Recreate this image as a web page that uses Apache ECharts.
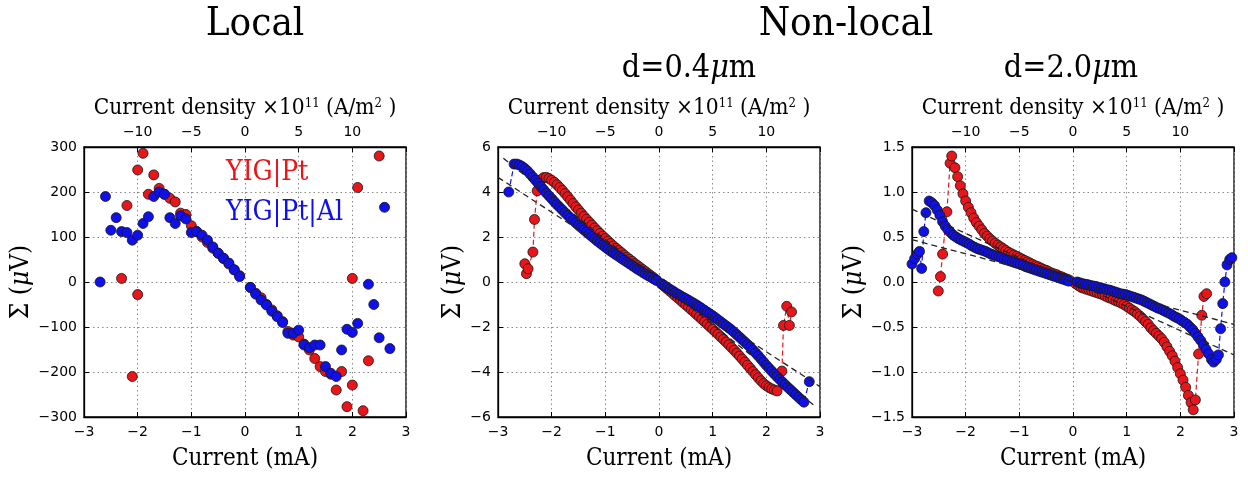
<!DOCTYPE html>
<html>
<head>
<meta charset="utf-8">
<script src="https://cdn.jsdelivr.net/npm/echarts@6/dist/echarts.min.js"></script>
<style>
html,body{margin:0;padding:0;background:#fff;}
#chart{width:1248px;height:477px;}
</style>
</head>
<body>
<div id="chart"></div>
<script>
// ---------- DATA ----------
const panelTitles = ['Local', 'Non-local', 'd=0.4', 'd=2.0'];
const seriesNames = ['YIG|Pt', 'YIG|Pt|Al'];
const currentTicks = [-3, -2, -1, 0, 1, 2, 3];
const densityTicks = [-10, -5, 0, 5, 10];

// Local: [current mA, Sigma uV]
const localPt = [[-2.3,8],[-2.2,170],[-2.1,-210],[-2.0,249],[-2.0,-28],[-1.9,286],[-1.8,195],[-1.7,238],[-1.6,208],[-1.5,195],[-1.4,186],[-1.3,178],[-1.2,153],[-1.1,150],[-1.0,125],[-0.9,112],[-0.8,100],[-0.7,88],[-0.6,75],[-0.5,64],[-0.4,52],[-0.3,40],[-0.2,27],[-0.1,14],[0.1,-12],[0.2,-25],[0.3,-35],[0.4,-50],[0.5,-62],[0.6,-75],[0.7,-88],[0.8,-110],[0.9,-118],[1.0,-122],[1.1,-138],[1.2,-151],[1.3,-170],[1.4,-188],[1.5,-199],[1.6,-205],[1.7,-240],[1.8,-199],[1.9,-277],[2.0,-229],[2.0,8],[2.1,210],[2.2,-286],[2.3,-175],[2.5,280]];
const localPtAl = [[-2.7,0],[-2.6,190],[-2.5,115],[-2.4,143],[-2.3,112],[-2.2,110],[-2.1,93],[-2.0,104],[-1.9,130],[-1.8,145],[-1.7,190],[-1.6,200],[-1.5,195],[-1.4,143],[-1.3,130],[-1.2,147],[-1.1,140],[-1.0,110],[-0.9,112],[-0.8,104],[-0.7,93],[-0.6,78],[-0.5,64],[-0.4,53],[-0.3,42],[-0.2,27],[-0.1,12],[0.1,-12],[0.2,-27],[0.3,-40],[0.4,-51],[0.5,-65],[0.6,-77],[0.7,-90],[0.8,-114],[0.9,-114],[1.0,-107],[1.1,-140],[1.2,-146],[1.3,-140],[1.4,-140],[1.5,-188],[1.6,-203],[1.7,-210],[1.8,-151],[1.9,-105],[2.0,-112],[2.1,-92],[2.3,-5],[2.4,-50],[2.5,-124],[2.6,166],[2.7,-148]];

// Non-local d=0.4um
const d04Pt = [[-2.50,0.81],[-2.47,0.37],[-2.44,0.59],[-2.35,1.33],[-2.32,2.78],[-2.27,4.05],
[-2.20,4.55],[-2.15,4.64],[-2.10,4.65],[-2.05,4.60],[-2.00,4.52],[-1.95,4.43],[-1.90,4.32],[-1.85,4.20],[-1.80,4.07],[-1.75,3.93],[-1.70,3.79],[-1.65,3.64],[-1.60,3.49],[-1.55,3.34],[-1.50,3.20],[-1.45,3.06],[-1.40,2.92],[-1.35,2.79],[-1.30,2.66],[-1.25,2.53],[-1.20,2.40],[-1.15,2.28],[-1.10,2.16],[-1.05,2.04],[-1.00,1.93],[-0.95,1.82],[-0.90,1.71],[-0.85,1.60],[-0.80,1.50],[-0.75,1.40],[-0.70,1.30],[-0.65,1.20],[-0.60,1.10],[-0.55,1.01],[-0.50,0.92],[-0.45,0.82],[-0.40,0.73],[-0.35,0.64],[-0.30,0.55],[-0.25,0.46],[-0.20,0.37],[-0.15,0.28],[-0.10,0.19],[-0.05,0.10],
[0.05,-0.10],[0.10,-0.20],[0.15,-0.30],[0.20,-0.40],[0.25,-0.50],[0.30,-0.61],[0.35,-0.71],[0.40,-0.81],[0.45,-0.92],[0.50,-1.02],[0.55,-1.12],[0.60,-1.23],[0.65,-1.33],[0.70,-1.44],[0.75,-1.55],[0.80,-1.66],[0.85,-1.77],[0.90,-1.88],[0.95,-1.99],[1.00,-2.10],[1.05,-2.21],[1.10,-2.32],[1.15,-2.44],[1.20,-2.55],[1.25,-2.67],[1.30,-2.79],[1.35,-2.91],[1.40,-3.03],[1.45,-3.16],[1.50,-3.29],[1.55,-3.42],[1.60,-3.56],[1.65,-3.70],[1.70,-3.84],[1.75,-3.98],[1.80,-4.12],[1.85,-4.26],[1.90,-4.39],[1.95,-4.51],[2.00,-4.61],[2.05,-4.69],[2.10,-4.75],[2.15,-4.80],[2.20,-4.84],
[2.29,-3.96],[2.32,-1.93],[2.38,-1.08],[2.43,-1.93],[2.47,-1.33]];
const d04PtAl = [[-2.80,4.00],
[-2.70,5.24],[-2.65,5.24],[-2.60,5.20],[-2.55,5.13],[-2.50,5.04],[-2.45,4.93],[-2.40,4.80],[-2.35,4.66],[-2.30,4.52],[-2.25,4.38],[-2.20,4.24],[-2.15,4.10],[-2.10,3.96],[-2.05,3.83],[-2.00,3.70],[-1.95,3.57],[-1.90,3.44],[-1.85,3.32],[-1.80,3.20],[-1.75,3.08],[-1.70,2.96],[-1.65,2.85],[-1.60,2.74],[-1.55,2.63],[-1.50,2.52],[-1.45,2.42],[-1.40,2.32],[-1.35,2.22],[-1.30,2.12],[-1.25,2.02],[-1.20,1.92],[-1.15,1.82],[-1.10,1.73],[-1.05,1.64],[-1.00,1.55],[-0.95,1.46],[-0.90,1.37],[-0.85,1.29],[-0.80,1.21],[-0.75,1.13],[-0.70,1.05],[-0.65,0.97],[-0.60,0.89],[-0.55,0.81],[-0.50,0.73],[-0.45,0.65],[-0.40,0.57],[-0.35,0.50],[-0.30,0.42],[-0.25,0.35],[-0.20,0.28],[-0.15,0.21],[-0.10,0.14],[-0.05,0.07],
[0.05,-0.08],[0.10,-0.16],[0.15,-0.24],[0.20,-0.32],[0.25,-0.39],[0.30,-0.47],[0.35,-0.54],[0.40,-0.61],[0.45,-0.68],[0.50,-0.74],[0.55,-0.81],[0.60,-0.88],[0.65,-0.95],[0.70,-1.02],[0.75,-1.10],[0.80,-1.18],[0.85,-1.26],[0.90,-1.34],[0.95,-1.42],[1.00,-1.50],[1.05,-1.59],[1.10,-1.68],[1.15,-1.77],[1.20,-1.86],[1.25,-1.95],[1.30,-2.04],[1.35,-2.13],[1.40,-2.23],[1.45,-2.34],[1.50,-2.45],[1.55,-2.56],[1.60,-2.67],[1.65,-2.78],[1.70,-2.90],[1.75,-3.02],[1.80,-3.15],[1.85,-3.28],[1.90,-3.42],[1.95,-3.56],[2.00,-3.70],[2.05,-3.83],[2.10,-3.96],[2.15,-4.09],[2.20,-4.21],[2.25,-4.33],[2.30,-4.45],[2.35,-4.57],[2.40,-4.68],[2.45,-4.79],[2.50,-4.90],[2.55,-5.01],[2.60,-5.12],[2.65,-5.23],[2.70,-5.34],
[2.80,-4.43]];
const d04FitA = [[-2.9,5.5],[2.9,-5.5]];
const d04FitB = [[-3.0,4.65],[3.0,-4.65]];

// Non-local d=2.0um
const d20Pt = [[-2.51,-0.10],[-2.47,0.06],[-2.43,0.31],[-2.35,0.78],[-2.29,1.32],[-2.26,1.40],
[-2.20,1.27],[-2.15,1.17],[-2.10,1.07],[-2.05,0.98],[-2.00,0.90],[-1.95,0.83],[-1.90,0.77],[-1.85,0.71],[-1.80,0.66],[-1.75,0.62],[-1.70,0.58],[-1.65,0.54],[-1.60,0.51],[-1.55,0.48],[-1.50,0.455],[-1.45,0.43],[-1.40,0.41],[-1.35,0.39],[-1.30,0.37],[-1.25,0.35],[-1.20,0.33],[-1.15,0.315],[-1.10,0.30],[-1.05,0.285],[-1.00,0.27],[-0.95,0.255],[-0.90,0.24],[-0.85,0.225],[-0.80,0.21],[-0.75,0.195],[-0.70,0.18],[-0.65,0.17],[-0.60,0.155],[-0.55,0.14],[-0.50,0.13],[-0.45,0.115],[-0.40,0.10],[-0.35,0.09],[-0.30,0.08],[-0.25,0.065],[-0.20,0.055],[-0.15,0.04],[-0.10,0.03],[-0.05,0.015],
[0.05,-0.02],[0.10,-0.04],[0.15,-0.06],[0.20,-0.07],[0.25,-0.08],[0.30,-0.09],[0.35,-0.10],[0.40,-0.11],[0.45,-0.12],[0.50,-0.13],[0.55,-0.14],[0.60,-0.155],[0.65,-0.17],[0.70,-0.18],[0.75,-0.195],[0.80,-0.21],[0.85,-0.22],[0.90,-0.235],[0.95,-0.25],[1.00,-0.27],[1.05,-0.29],[1.10,-0.31],[1.15,-0.33],[1.20,-0.355],[1.25,-0.38],[1.30,-0.41],[1.35,-0.44],[1.40,-0.47],[1.45,-0.51],[1.50,-0.54],[1.55,-0.57],[1.60,-0.60],[1.65,-0.63],[1.70,-0.67],[1.75,-0.72],[1.80,-0.77],[1.85,-0.82],[1.90,-0.88],[1.95,-0.95],[2.00,-1.02],[2.05,-1.09],[2.10,-1.17],[2.15,-1.26],[2.20,-1.34],[2.24,-1.42],
[2.28,-1.31],[2.34,-0.80],[2.40,-0.37],[2.44,-0.16],[2.49,-0.13]];
const d20PtAl = [[-3.00,0.20],[-2.95,0.26],[-2.90,0.31],[-2.86,0.34],[-2.82,0.15],[-2.78,0.56],[-2.74,0.77],
[-2.68,0.90],[-2.63,0.88],[-2.58,0.85],[-2.53,0.80],[-2.48,0.74],[-2.43,0.67],[-2.38,0.62],[-2.33,0.58],[-2.28,0.55],[-2.23,0.52],[-2.18,0.50],[-2.13,0.48],[-2.08,0.465],[-2.03,0.45],[-1.98,0.435],[-1.93,0.42],[-1.88,0.40],[-1.83,0.385],[-1.78,0.37],[-1.73,0.36],[-1.68,0.35],[-1.63,0.34],[-1.58,0.325],[-1.53,0.31],[-1.48,0.30],[-1.43,0.29],[-1.38,0.28],[-1.33,0.27],[-1.28,0.255],[-1.23,0.245],[-1.18,0.235],[-1.13,0.225],[-1.08,0.215],[-1.03,0.205],[-0.98,0.195],[-0.93,0.185],[-0.88,0.17],[-0.83,0.16],[-0.78,0.15],[-0.73,0.14],[-0.68,0.13],[-0.63,0.12],[-0.58,0.11],[-0.53,0.10],[-0.48,0.09],[-0.43,0.08],[-0.38,0.07],[-0.33,0.06],[-0.28,0.05],[-0.23,0.04],[-0.18,0.03],[-0.13,0.02],[-0.08,0.01],
[0.08,0.00],[0.13,-0.01],[0.18,-0.02],[0.23,-0.025],[0.28,-0.03],[0.33,-0.04],[0.38,-0.045],[0.43,-0.05],[0.48,-0.06],[0.53,-0.07],[0.58,-0.075],[0.63,-0.085],[0.68,-0.09],[0.73,-0.10],[0.78,-0.11],[0.83,-0.12],[0.88,-0.13],[0.93,-0.135],[0.98,-0.14],[1.03,-0.15],[1.08,-0.16],[1.13,-0.17],[1.18,-0.18],[1.23,-0.19],[1.28,-0.20],[1.33,-0.215],[1.38,-0.23],[1.43,-0.245],[1.48,-0.26],[1.53,-0.275],[1.58,-0.29],[1.63,-0.30],[1.68,-0.315],[1.73,-0.33],[1.78,-0.345],[1.83,-0.36],[1.88,-0.38],[1.93,-0.395],[1.98,-0.41],[2.03,-0.43],[2.08,-0.45],[2.13,-0.47],[2.18,-0.50],[2.23,-0.53],[2.28,-0.57],[2.33,-0.61],[2.38,-0.65],[2.43,-0.70],[2.48,-0.75],[2.53,-0.80],[2.58,-0.86],[2.62,-0.89],[2.67,-0.86],[2.71,-0.81],
[2.75,-0.52],[2.79,-0.24],[2.83,0.00],[2.87,0.19],[2.92,0.25],[2.96,0.27]];
const d20FitA = [[-3.0,0.81],[3.0,-0.81]];
const d20FitB = [[-3.0,0.47],[3.0,-0.47]];

// ---------- STYLE ----------
const RED = '#e8161a', BLUE = '#1010ea', EDGE = '#151515';
const SERIF = "'DejaVu Serif Condensed', 'DejaVu Serif', serif";
const SANS = "'DejaVu Sans', sans-serif";
const minus = v => (v < 0 ? '\u2212' : '') + Math.abs(v);

const grids = [
  {left: 84, top: 147, width: 322, height: 270},
  {left: 498, top: 147, width: 322, height: 270},
  {left: 912, top: 147, width: 322, height: 270}
];
const yCfg = [
  {min: -300, max: 300, interval: 100, fmt: v => minus(v), gap: 49},
  {min: -6, max: 6, interval: 2, fmt: v => minus(v), gap: 32},
  {min: -1.5, max: 1.5, interval: 0.5, fmt: v => (v < 0 ? '\u2212' : '') + Math.abs(v).toFixed(1), gap: 45}
];

const xAxes = [], yAxes = [];
grids.forEach((g, i) => {
  xAxes.push({
    type: 'value', gridIndex: i, position: 'bottom', min: -3, max: 3, interval: 1,
    name: 'Current (mA)', nameLocation: 'middle', nameGap: 30,
    nameTextStyle: {fontFamily: SERIF, fontSize: 24, color: '#000'},
    axisLine: {show: true, onZero: false, lineStyle: {color: '#000', width: 1.3}},
    axisTick: {show: true, inside: true, length: 5, lineStyle: {color: '#000'}},
    axisLabel: {formatter: minus, fontFamily: SANS, fontSize: 14, color: '#000', margin: 8},
    splitLine: {show: true, lineStyle: {color: '#8a8a8a', type: [1.5, 3], width: 1}}
  });
  xAxes.push({
    type: 'value', gridIndex: i, position: 'top', min: -15, max: 15, interval: 5,
    name: 'Current density \u00d710{sup|11} (A/m{sup|2} )', nameLocation: 'middle', nameGap: 27,
    nameTextStyle: {fontFamily: SERIF, fontSize: 22.5, color: '#000',
      rich: {sup: {fontFamily: SERIF, fontSize: 13, color: '#000', padding: [0, 0, 10, 0]}}},
    axisLine: {show: true, onZero: false, lineStyle: {color: '#000', width: 1.3}},
    axisTick: {show: true, inside: true, length: 5, lineStyle: {color: '#000'}},
    axisLabel: {formatter: v => (densityTicks.includes(v) ? minus(v) : ''), fontFamily: SANS, fontSize: 14, color: '#000', margin: 8},
    splitLine: {show: false}
  });
  const c = yCfg[i];
  yAxes.push({
    type: 'value', gridIndex: i, min: c.min, max: c.max, interval: c.interval,
    name: '\u03a3 ({it|\u03bc}V)', nameLocation: 'middle', nameRotate: 90, nameGap: c.gap,
    nameTextStyle: {fontFamily: SERIF, fontSize: 26, color: '#000',
      rich: {it: {fontFamily: SERIF, fontSize: 26, fontStyle: 'italic', color: '#000'}}},
    axisLine: {show: true, onZero: false, lineStyle: {color: '#000', width: 1.3}},
    axisTick: {show: true, inside: true, length: 5, lineStyle: {color: '#000'}},
    axisLabel: {formatter: c.fmt, fontFamily: SANS, fontSize: 14, color: '#000', margin: 7},
    splitLine: {show: true, lineStyle: {color: '#8a8a8a', type: [1.5, 3], width: 1}}
  });
});

function pts(name, data, gi, color, withLine) {
  return {
    name: name, type: withLine ? 'line' : 'scatter', xAxisIndex: gi * 2, yAxisIndex: gi,
    data: data, symbol: 'circle', symbolSize: 10, showSymbol: true,
    itemStyle: {color: color, borderColor: EDGE, borderWidth: 0.8, opacity: 1},
    lineStyle: withLine ? {color: color, width: 1.2, type: [5, 3]} : undefined,
    emphasis: {disabled: true}, animation: false, clip: true
  };
}
function fit(data, gi) {
  return {
    type: 'line', xAxisIndex: gi * 2, yAxisIndex: gi, data: data, showSymbol: false, symbol: 'none',
    lineStyle: {color: '#222', width: 1.3, type: [6, 4]}, emphasis: {disabled: true}, animation: false, z: 5, silent: true
  };
}

const option = {
  backgroundColor: '#fff',
  animation: false,
  title: [
    {text: panelTitles[0], left: 250, top: 0, textAlign: 'center', textStyle: {fontFamily: SERIF, fontSize: 40, fontWeight: 'normal', color: '#000'}},
    {text: panelTitles[1], left: 841, top: 0, textAlign: 'center', textStyle: {fontFamily: SERIF, fontSize: 40, fontWeight: 'normal', color: '#000'}},
    {text: panelTitles[2] + '{it|\u03bc}m', left: 684, top: 48, textAlign: 'center', textStyle: {fontFamily: SERIF, fontSize: 32, fontWeight: 'normal', color: '#000', rich: {it: {fontFamily: SERIF, fontSize: 32, fontStyle: 'italic', color: '#000'}}}},
    {text: panelTitles[3] + '{it|\u03bc}m', left: 1066, top: 48, textAlign: 'center', textStyle: {fontFamily: SERIF, fontSize: 32, fontWeight: 'normal', color: '#000', rich: {it: {fontFamily: SERIF, fontSize: 32, fontStyle: 'italic', color: '#000'}}}}
  ],
  legend: {
    orient: 'vertical', left: 214, top: 154, itemGap: 12, itemWidth: 2, itemHeight: 2,
    selectedMode: false,
    data: [
      {name: seriesNames[0], icon: 'none', textStyle: {color: RED}},
      {name: seriesNames[1], icon: 'none', textStyle: {color: BLUE}}
    ],
    textStyle: {fontFamily: SERIF, fontSize: 28}
  },
  grid: grids.map(g => Object.assign({show: true, borderColor: '#000', borderWidth: 1.3, backgroundColor: '#fff'}, g)),
  xAxis: xAxes,
  yAxis: yAxes,
  series: [
    pts(seriesNames[0], localPt, 0, RED, false),
    pts(seriesNames[1], localPtAl, 0, BLUE, false),
    pts(seriesNames[0], d04Pt, 1, RED, true),
    pts(seriesNames[1], d04PtAl, 1, BLUE, true),
    fit(d04FitA, 1), fit(d04FitB, 1),
    pts(seriesNames[0], d20Pt, 2, RED, true),
    pts(seriesNames[1], d20PtAl, 2, BLUE, true),
    fit(d20FitA, 2), fit(d20FitB, 2)
  ]
};

const chart = echarts.init(document.getElementById('chart'), null, {renderer: 'canvas'});
chart.setOption(option);
</script>
</body>
</html>
